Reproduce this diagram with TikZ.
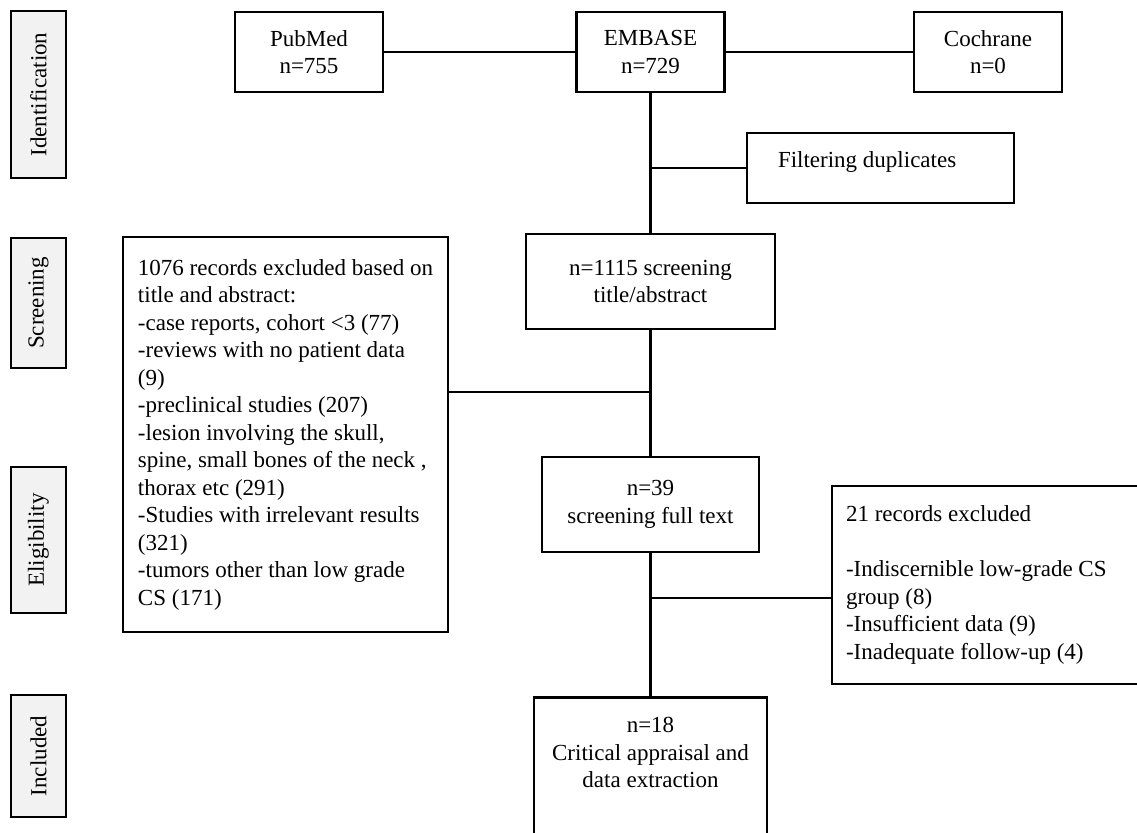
\documentclass[tikz,border=0pt]{standalone}
\usepackage{fontspec}
\setmainfont{Liberation Serif}
\usetikzlibrary{positioning,calc}

\begin{document}
\begin{tikzpicture}[x=0.5pt, y=-0.5pt]

        % one unit is one pixel of the original chart,
        % y runs downwards
        \tikzset{
            box/.style={draw, line width=1.3pt, align=center,
                font=\fontsize{11.5}{13.75}\selectfont},
            stage/.style={draw, line width=0.8pt, fill=black!5,
                rotate=90, minimum height=27.5pt, inner sep=0pt,
                font=\fontsize{11.5}{13.75}\selectfont}
        }

        \useasboundingbox (0, 0) rectangle (1137, 833);

        % Stages on the left
        \begin{scope}
            \node[stage, minimum width=83.5pt] (L1) at (38.5, 94.5)
            {Identification};
            \node[stage, minimum width=65pt] (L2) at (38.5, 303)
            {Screening};
            \node[stage, minimum width=73pt] (L3) at (38.5, 540)
            {Eligibility};
            \node[stage, minimum width=61pt] (L4) at (38.5, 756)
            {Included};
        \end{scope}

        % Databases and the main column
        \begin{scope}
            \node[box, minimum width=74pt, minimum height=40pt] (P1)
            at (309, 52) {PubMed\\n=755};
            \node[box, minimum width=74pt, minimum height=40pt] (E1)
            at (650.5, 52) {EMBASE\\n=729};
            \node[box, minimum width=74pt, minimum height=40pt] (C1)
            at (988, 52) {Cochrane\\n=0};

            \node[box, align=flush left, text width=102.5pt, inner xsep=15.5pt,
                minimum height=35pt, text depth=8.5pt] (D1)
            at (880.5, 168) {Filtering duplicates};

            \node[box, minimum width=124.5pt, minimum height=47.5pt] (S1)
            at (650.5, 281.5) {n=1115 screening\\title/abstract};
            \node[box, minimum width=108.5pt, minimum height=47.5pt] (F1)
            at (650.5, 504.5) {n=39\\screening full text};
            \node[box, anchor=north, minimum width=116.5pt, inner ysep=10pt]
            (I1) at (650.5, 696)
            {n=18\\Critical appraisal and\\data extraction\\[40pt]\mbox{}};
        \end{scope}

        % Exclusions
        \begin{scope}
            \node[box, align=left, minimum width=162.5pt,
                minimum height=197.5pt] (X1) at (285.5, 434.5)
            {1076 records excluded based on\\
             title and abstract:\\
             -case reports, cohort <3 (77)\\
             -reviews with no patient data\\
             (9)\\
             -preclinical studies (207)\\
             -lesion involving the skull,\\
             spine, small bones of the neck ,\\
             thorax etc (291)\\
             -Studies with irrelevant results\\
             (321)\\
             -tumors other than low grade\\
             CS (171)};
            \node[box, align=flush left, text width=145pt, inner xsep=7pt,
                minimum height=99pt] (X2) at (991, 585)
            {21 records excluded\\[13.75pt]
             -Indiscernible low-grade CS\\
             group (8)\\
             -Insufficient data (9)\\
             -Inadequate follow-up (4)};
        \end{scope}

        \coordinate (J1) at (650.5, 392);
        \coordinate (J2) at (650.5, 598);

        \begin{scope}[line width=1.3pt]
            \draw (P1.east) -- (E1.west);
            \draw (E1.east) -- (C1.west);
            \draw (E1.south) -- (S1.north);
            \draw (D1.west) -- (D1.west -| E1.south);
            \draw (S1.south) -- (F1.north);
            \draw (X1.east |- J1) -- (J1);
            \draw (F1.south) -- (I1.north);
            \draw (J2) -- (J2 -| X2.west);
        \end{scope}

        \end{tikzpicture}
\end{document}
